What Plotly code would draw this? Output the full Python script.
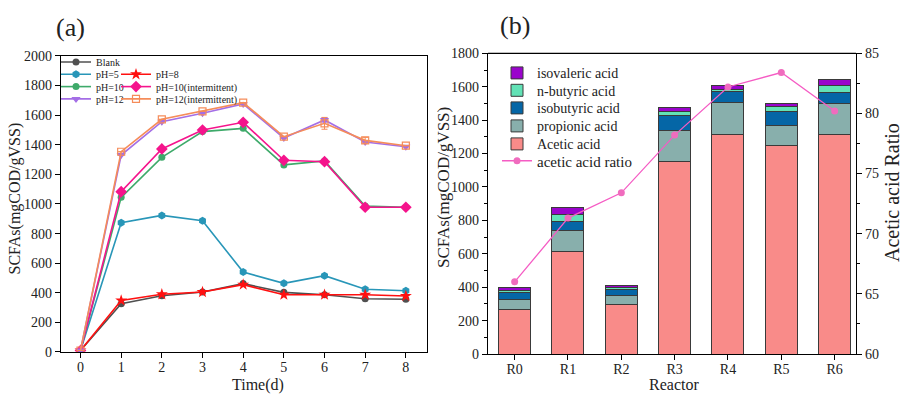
import plotly.graph_objects as go

# ---------------- data: panel (a) ----------------
days = [0, 1, 2, 3, 4, 5, 6, 7, 8]
blank = [10, 326, 380, 405, 462, 403, 387, 360, 356]
ph5 = [10, 874, 923, 887, 540, 464, 516, 424, 414]
ph8 = [10, 348, 390, 405, 455, 387, 387, 387, 378]
ph10 = [10, 1045, 1315, 1489, 1511, 1264, 1291, 986, 978]
ph10_int = [10, 1083, 1372, 1500, 1552, 1295, 1286, 978, 978]
ph12 = [10, 1331, 1556, 1613, 1676, 1446, 1568, 1419, 1387]
ph12_int = [10, 1353, 1572, 1626, 1685, 1455, 1545, 1430, 1394]
ph12_err = [0, 0, 0, 0, 0, 0, 15, 0, 0]
ph12_int_err = [0, 0, 0, 0, 0, 0, 40, 20, 0]

# ---------------- data: panel (b) ----------------
reactors = ["R0", "R1", "R2", "R3", "R4", "R5", "R6"]
acetic = [265, 615, 298, 1155, 1313, 1247, 1313]
propionic = [62, 123, 51, 182, 192, 120, 188]
isobutyric = [42, 58, 40, 88, 64, 86, 64]
n_butyric = [14, 42, 12, 28, 16, 28, 44]
isovaleric = [17, 38, 10, 24, 20, 18, 36]
acetic_ratio = [66.0, 71.3, 73.4, 78.2, 82.2, 83.4, 80.2]

FONT = "Liberation Serif"
W, H = 902, 394


def px_x(v):
    return v / W


def px_y(v):
    return 1 - v / H


fig = go.Figure()

# (name, values, colour, symbol, size, error, legend-left px, legend-row px)
line_specs = [
    ("Blank", blank, "#505050", "circle", 7, None, 56, 62),
    ("pH=5", ph5, "#2896b8", "hexagon", 8, None, 56, 74.3),
    ("pH=8", ph8, "#ff1010", "star", 9, None, 116, 74.3),
    ("pH=10", ph10, "#3eaa6a", "circle", 7, None, 56, 86.6),
    ("pH=10(intermittent)", ph10_int, "#f5148c", "diamond", 9, None, 116, 86.6),
    ("pH=12", ph12, "#a46ee6", "triangle-down", 8, ph12_err, 56, 98.9),
    ("pH=12(intermittent)", ph12_int, "#f58c5a", "square-open", 7, ph12_int_err, 116, 98.9),
]
legends = {}
n = 1
for name, ys, col, sym, size, err, lx, ly in line_specs:
    key = "legend" if n == 1 else f"legend{n}"
    legends[key] = dict(x=px_x(lx), y=px_y(ly), xanchor="left", yanchor="middle",
                        bgcolor="rgba(0,0,0,0)", font=dict(family=FONT, size=10, color="#222"),
                        itemwidth=30, visible=True)
    kw = {}
    if err is not None:
        kw["error_y"] = dict(type="data", array=err, color=col, thickness=1, width=3)
    fig.add_trace(go.Scatter(
        x=days, y=ys, name=name, mode="lines+markers",
        line=dict(color=col, width=1.6),
        marker=dict(symbol=sym, size=size, color=col,
                    line=dict(color=col, width=1.2 if sym.endswith("open") else 0)),
        xaxis="x", yaxis="y", legend=key, showlegend=True, **kw))
    n += 1

bar_specs = [
    ("Acetic acid", acetic, "#f98b89", 144.3),
    ("propionic acid", propionic, "#88afac", 126.3),
    ("isobutyric acid", isobutyric, "#0566a6", 108.3),
    ("n-butyric acid", n_butyric, "#62e2b6", 90.7),
    ("isovaleric acid", isovaleric, "#9a04cc", 73.3),
]
for name, vals, col, ly in bar_specs:
    key = f"legend{n}"
    legends[key] = dict(x=px_x(497), y=px_y(ly), xanchor="left", yanchor="middle",
                        bgcolor="rgba(0,0,0,0)", font=dict(family=FONT, size=14, color="#222"),
                        itemwidth=30)
    fig.add_trace(go.Bar(
        x=reactors, y=vals, name=name,
        marker=dict(color=col, line=dict(color="#3a3a3a", width=1)),
        width=0.6, xaxis="x2", yaxis="y2", legend=key))
    n += 1

key = f"legend{n}"
legends[key] = dict(x=px_x(497), y=px_y(161), xanchor="left", yanchor="middle",
                    bgcolor="rgba(0,0,0,0)", font=dict(family=FONT, size=15, color="#222"),
                    itemwidth=30)
fig.add_trace(go.Scatter(
    x=reactors, y=acetic_ratio, name="acetic acid ratio", mode="lines+markers",
    line=dict(color="#f55cc4", width=1.3), marker=dict(symbol="circle", size=7, color="#f06cbe"),
    xaxis="x2", yaxis="y3", legend=key))

axis_common = dict(showline=True, linecolor="black", linewidth=1.2, ticks="outside",
                   tickcolor="black", ticklen=5, tickwidth=1, showgrid=False, zeroline=False,
                   tickfont=dict(family=FONT, size=14, color="#222"), automargin=False)


def tfont(size):
    return dict(family=FONT, size=size, color="#222")


def label(text, x, y, size, angle=0):
    return dict(text=text, x=px_x(x), y=px_y(y), xref="paper", yref="paper", showarrow=False,
                textangle=angle, xanchor="center", yanchor="middle", font=tfont(size))


fig.update_layout(
    width=W, height=H, margin=dict(l=0, r=0, t=0, b=0),
    paper_bgcolor="white", plot_bgcolor="white",
    font=dict(family=FONT, color="#222"),
    barmode="stack", showlegend=True,
    xaxis=dict(domain=[0.0676, 0.4734], anchor="y", range=[-0.48, 8.52], dtick=1,
               mirror=True, ticklabelstandoff=-3, **axis_common),
    yaxis=dict(domain=[0.1066, 0.8579], anchor="x", range=[0, 2000], dtick=200,
               mirror=True, **axis_common),
    xaxis2=dict(domain=[0.541, 0.949], anchor="y2", range=[-0.5, 6.4], type="category",
                mirror=False, ticklabelstandoff=-3, **axis_common),
    yaxis2=dict(domain=[0.1015, 0.8647], anchor="x2", range=[0, 1800], dtick=200,
                minor=dict(dtick=100, ticks="outside", ticklen=3, tickcolor="black"),
                **axis_common),
    yaxis3=dict(domain=[0.1015, 0.8647], anchor="x2", overlaying="y2", side="right",
                range=[60, 85], dtick=5,
                minor=dict(dtick=2.5, ticks="outside", ticklen=3, tickcolor="black"),
                **axis_common),
    annotations=[
        label("(a)", 70, 27, 26),
        label("(b)", 515, 25, 26),
        label("SCFAs(mgCOD/gVSS)", 14.5, 199, 16, -90),
        label("SCFAs(mgCOD/gVSS)", 443, 188, 17, -90),
        label("Acetic acid Ratio", 892, 193, 20, -90),
        label("Time(d)", 258, 384.5, 16),
        label("Reactor", 674, 384.5, 16),
    ],
    **legends,
)
fig.add_shape(type="line", xref="x2 domain", yref="y2 domain", x0=0, x1=1, y0=1, y1=1,
              line=dict(color="black", width=1.2))

fig.write_html("out.html")
